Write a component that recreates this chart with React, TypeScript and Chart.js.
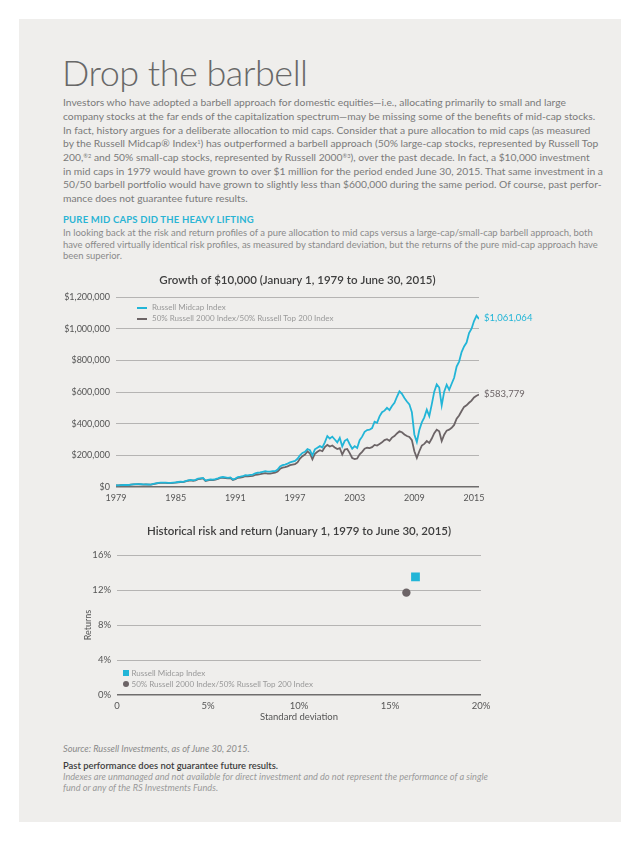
import React, { useEffect, useRef } from "react";
import { Chart, registerables } from "chart.js";

Chart.register(...registerables);

const FONT = "Lato, 'Open Sans', 'DejaVu Sans', sans-serif";
const BLUE = "#22b5d7";
const GRAY = "#6c6466";
const GRID = "#b5b4b3";
const ZERO = "#6f6d6d";
const TICK = "#555555";

// ---- Growth of $10,000 (values in thousands of dollars, quarterly from Jan 1979 to Jun 2015)
const startYear = 1979;
const yearTicks = [1979, 1985, 1991, 1997, 2003, 2009, 2015];
const seriesNames = ["Russell Midcap Index", "50% Russell 2000 Index/50% Russell Top 200 Index"];

const midcapGrowth = [
  10, 10.8, 11.8, 12.6,
  13.5, 12.8, 15.5, 17,
  17.8, 18.5, 17.5, 16.2,
  16.5, 15.8, 15.4, 19.5,
  22.5, 25.5, 27.8, 27.5,
  28, 26, 25.5, 27.8,
  29.5, 31.5, 33.5, 33,
  37.5, 42, 44.5, 42,
  45, 53, 55, 57,
  41, 45, 47.5, 47,
  50, 55, 61, 63,
  61, 58, 61, 48,
  53, 63, 65, 68,
  75, 74, 76, 78,
  86, 90, 92, 96,
  100, 97, 97, 100,
  100, 110, 130, 138,
  142, 148, 155, 160,
  165, 178, 200, 215,
  222, 240, 232, 200,
  238, 248, 258, 250,
  282, 322, 306, 318,
  300, 282, 310, 256,
  292, 302, 270, 242,
  258, 246, 296, 318,
  348, 360, 362, 372,
  412, 406, 446, 472,
  482, 500, 486, 512,
  532, 570, 604, 588,
  562, 540, 522, 472,
  332, 284, 360, 408,
  440, 488, 448, 522,
  602, 648, 628, 516,
  602, 646, 614, 652,
  690, 760, 792, 852,
  888, 912, 972, 1000,
  1048, 1082, 1061.064,
];

const barbellGrowth = [
  10, 10.6, 11.5, 12.2,
  13, 12.4, 14.8, 16.2,
  16.8, 17.5, 16.8, 15.5,
  15.8, 15.2, 14.8, 18.5,
  21.5, 24.5, 26.5, 26,
  26.2, 24.5, 24, 26.2,
  27.8, 29.8, 31.5, 31.5,
  35.5, 39.5, 41.5, 39.5,
  42.5, 50, 52, 54,
  38, 42, 44.5, 44,
  47, 51.5, 57, 58.5,
  56.5, 54, 56.5, 44.5,
  49, 58, 60, 62.5,
  68, 67, 68.5, 70.5,
  76, 79, 81, 84,
  87, 84, 85, 88,
  90, 98, 115, 122,
  125, 130, 138, 142,
  145, 155, 180, 195,
  205, 225, 212, 175,
  210, 222, 232, 226,
  252, 266, 256, 262,
  250, 240, 246, 205,
  236, 240, 214, 183,
  176, 180, 206, 222,
  242, 248, 246, 252,
  266, 262, 272, 282,
  296, 302, 292, 312,
  322, 338, 352, 346,
  332, 322, 316, 296,
  226, 184, 226, 262,
  272, 290, 278, 306,
  340, 362, 352, 290,
  330, 356, 362, 374,
  392, 432, 452, 480,
  506, 516, 532, 546,
  566, 576, 583.779,
];

// ---- Historical risk and return
const riskStdDev = [16.4, 15.9];
const riskReturn = [13.5, 11.7];

const fmtDollars = (k: number) => "$" + Math.round(k * 1000).toLocaleString("en-US");

const endLabels = {
  id: "endLabels",
  afterDatasetsDraw(chart: any) {
    const ctx = chart.ctx;
    chart.data.datasets.forEach((ds: any, i: number) => {
      const meta = chart.getDatasetMeta(i);
      const pt = meta.data[meta.data.length - 1];
      const v = ds.data[ds.data.length - 1].y;
      ctx.save();
      ctx.font = `9.5px ${FONT}`;
      ctx.fillStyle = ds.borderColor;
      ctx.textBaseline = "middle";
      ctx.textAlign = "left";
      ctx.fillText(fmtDollars(v), pt.x + 5, pt.y - 1);
      ctx.restore();
    });
  },
};

function GrowthChart() {
  const ref = useRef<HTMLCanvasElement>(null);
  useEffect(() => {
    if (!ref.current) return;
    const toPoints = (arr: number[]) => arr.map((v, i) => ({ x: startYear + i / 4, y: v }));
    const chart = new Chart(ref.current, {
      type: "line",
      data: {
        datasets: [
          { label: seriesNames[0], data: toPoints(midcapGrowth), borderColor: BLUE, borderWidth: 1.8, pointRadius: 0, tension: 0 },
          { label: seriesNames[1], data: toPoints(barbellGrowth), borderColor: GRAY, borderWidth: 1.8, pointRadius: 0, tension: 0 },
        ],
      },
      options: {
        animation: false,
        responsive: false,
        maintainAspectRatio: false,
        layout: { padding: { left: 0, right: 81, top: 0, bottom: 0 } },
        plugins: {
          legend: { display: false },
          tooltip: { enabled: false },
          title: {
            display: true,
            fullSize: false,
            text: "Growth of $10,000 (January 1, 1979 to June 30, 2015)",
            color: "#3e3e3e",
            font: { family: FONT, size: 11.5, weight: "600" },
            padding: { top: 8.1, bottom: 10.1 },
          },
        },
        scales: {
          x: {
            type: "linear",
            min: 1979,
            max: 2015.5,
            afterBuildTicks: (s: any) => {
              s.ticks = yearTicks.map((v) => ({ value: v }));
            },
            afterFit: (s: any) => {
              s.height = 23;
            },
            ticks: {
              callback: (v: any) => String(v),
              color: TICK,
              font: { family: FONT, size: 9 },
              padding: 6,
              maxRotation: 0,
              autoSkip: false,
            },
            grid: { display: false, drawTicks: false },
            border: { display: false },
          },
          y: {
            min: 0,
            max: 1200,
            afterFit: (s: any) => {
              s.width = 76;
            },
            ticks: {
              stepSize: 200,
              callback: (v: any) => fmtDollars(Number(v)),
              color: TICK,
              font: { family: FONT, size: 9 },
              padding: 6,
            },
            grid: {
              drawTicks: false,
              color: (c: any) => (c.tick && c.tick.value === 0 ? ZERO : GRID),
              lineWidth: (c: any) => (c.tick && c.tick.value === 0 ? 1.6 : 1),
            },
            border: { display: false },
          },
        },
      },
      plugins: [endLabels],
    } as any);
    return () => chart.destroy();
  }, []);
  return (
    <canvas
      ref={ref}
      width={520}
      height={245}
      style={{ position: "absolute", left: 40, top: 265, width: 520, height: 245 }}
    />
  );
}

function RiskChart() {
  const ref = useRef<HTMLCanvasElement>(null);
  useEffect(() => {
    if (!ref.current) return;
    const chart = new Chart(ref.current, {
      type: "scatter",
      data: {
        datasets: [
          {
            label: seriesNames[0],
            data: [{ x: riskStdDev[0], y: riskReturn[0] }],
            pointStyle: "rect",
            pointRadius: 6.2,
            backgroundColor: BLUE,
            borderWidth: 0,
          },
          {
            label: seriesNames[1],
            data: [{ x: riskStdDev[1], y: riskReturn[1] }],
            pointStyle: "circle",
            pointRadius: 4.2,
            backgroundColor: GRAY,
            borderWidth: 0,
          },
        ],
      },
      options: {
        animation: false,
        responsive: false,
        maintainAspectRatio: false,
        layout: { padding: { left: 40, right: 79, top: 0, bottom: 0 } },
        plugins: {
          legend: { display: false },
          tooltip: { enabled: false },
          title: {
            display: true,
            fullSize: false,
            text: "Historical risk and return (January 1, 1979 to June 30, 2015)",
            color: "#3e3e3e",
            font: { family: FONT, size: 11.5, weight: "600" },
            padding: { top: 9.1, bottom: 17.1 },
          },
        },
        scales: {
          x: {
            type: "linear",
            min: 0,
            max: 20,
            afterFit: (s: any) => {
              s.height = 35;
            },
            ticks: {
              stepSize: 5,
              callback: (v: any) => (Number(v) === 0 ? "0" : v + "%"),
              color: TICK,
              font: { family: FONT, size: 9.5 },
              padding: 5,
              maxRotation: 0,
            },
            title: {
              display: true,
              text: "Standard deviation",
              color: TICK,
              font: { family: FONT, size: 9.5 },
              padding: { top: 0, bottom: 7.3 },
            },
            grid: { display: false, drawTicks: false },
            border: { display: false },
          },
          y: {
            min: 0,
            max: 16,
            afterFit: (s: any) => {
              s.width = 37;
            },
            ticks: {
              stepSize: 4,
              callback: (v: any) => v + "%",
              color: TICK,
              font: { family: FONT, size: 9.5 },
              padding: 6,
            },
            title: {
              display: true,
              text: "Returns",
              color: TICK,
              font: { family: FONT, size: 9 },
              padding: { top: 2.6, bottom: 0 },
            },
            grid: {
              drawTicks: false,
              color: (c: any) => (c.tick && c.tick.value === 0 ? ZERO : GRID),
              lineWidth: (c: any) => (c.tick && c.tick.value === 0 ? 1.6 : 1),
            },
            border: { display: false },
          },
        },
      },
    } as any);
    return () => chart.destroy();
  }, []);
  return (
    <canvas
      ref={ref}
      width={520}
      height={215}
      style={{ position: "absolute", left: 40, top: 515, width: 520, height: 215 }}
    />
  );
}

const abs = (left: number, top: number, extra: React.CSSProperties = {}): React.CSSProperties => ({
  position: "absolute",
  left,
  top,
  whiteSpace: "nowrap",
  fontFamily: FONT,
  margin: 0,
  ...extra,
});

const supStyle: React.CSSProperties = { fontSize: "0.55em", verticalAlign: "0.6em", lineHeight: 0 };

const bodyLines: React.ReactNode[] = [
  "Investors who have adopted a barbell approach for domestic equities\u2014i.e., allocating primarily to small and large",
  "company stocks at the far ends of the capitalization spectrum\u2014may be missing some of the benefits of mid-cap stocks.",
  "In fact, history argues for a deliberate allocation to mid caps. Consider that a pure allocation to mid caps (as measured",
  <>
    by the Russell Midcap® Index<sup style={supStyle}>1</sup>) has outperformed a barbell approach (50% large-cap stocks, represented by Russell Top
  </>,
  <>
    200,<sup style={supStyle}>®2</sup> and 50% small-cap stocks, represented by Russell 2000<sup style={supStyle}>®3</sup>), over the past decade. In fact, a $10,000 investment
  </>,
  "in mid caps in 1979 would have grown to over $1 million for the period ended June 30, 2015. That same investment in a",
  "50/50 barbell portfolio would have grown to slightly less than $600,000 during the same period. Of course, past perfor-",
  "mance does not guarantee future results.",
];

const subLines = [
  "In looking back at the risk and return profiles of a pure allocation to mid caps versus a large-cap/small-cap barbell approach, both",
  "have offered virtually identical risk profiles, as measured by standard deviation, but the returns of the pure mid-cap approach have",
  "been superior.",
];

export default function App() {
  return (
    <div style={{ position: "absolute", left: 0, top: 0, width: 640, height: 841, background: "#ffffff", overflow: "hidden" }}>
      <div style={{ position: "absolute", left: 19, top: 19, width: 602, height: 803, background: "#efeeec" }} />

      <div style={abs(62, 54, { fontSize: 36, fontWeight: 300, lineHeight: "36px", letterSpacing: -0.5, color: "#686868" })}>
        Drop the barbell
      </div>

      <div style={abs(63, 96.2, { fontSize: 10.3, lineHeight: "13.7px", color: "#7a7a7a" })}>
        {bodyLines.map((l, i) => (
          <div key={i}>{l}</div>
        ))}
      </div>

      <div style={abs(63, 214, { fontSize: 9.5, lineHeight: "12px", fontWeight: 700, color: "#2ab4d4", letterSpacing: 0.2 })}>
        PURE MID CAPS DID THE HEAVY LIFTING
      </div>

      <div style={abs(63, 227.3, { fontSize: 9.45, lineHeight: "11.5px", color: "#8a8a8a" })}>
        {subLines.map((l, i) => (
          <div key={i}>{l}</div>
        ))}
      </div>

      <GrowthChart />
      {/* legend, growth chart */}
      <div style={{ position: "absolute", left: 137, top: 306.5, width: 10, height: 2, background: BLUE }} />
      <div style={abs(152, 302, { fontSize: 8, lineHeight: "11px", color: "#999999" })}>{seriesNames[0]}</div>
      <div style={{ position: "absolute", left: 137, top: 317.5, width: 10, height: 2, background: GRAY }} />
      <div style={abs(152, 313, { fontSize: 8, lineHeight: "11px", color: "#999999" })}>{seriesNames[1]}</div>

      <RiskChart />
      {/* legend, risk chart */}
      <div style={{ position: "absolute", left: 123, top: 670, width: 6, height: 6, background: BLUE }} />
      <div style={abs(131.5, 667.5, { fontSize: 8, lineHeight: "11px", color: "#999999" })}>{seriesNames[0]}</div>
      <div style={{ position: "absolute", left: 123, top: 681, width: 6, height: 6, borderRadius: 3, background: GRAY }} />
      <div style={abs(131.5, 678.5, { fontSize: 8, lineHeight: "11px", color: "#999999" })}>{seriesNames[1]}</div>

      <div style={abs(63, 742.5, { fontSize: 9.2, lineHeight: "11px", fontStyle: "italic", color: "#8a8a8a" })}>
        Source: Russell Investments, as of June 30, 2015.
      </div>
      <div style={abs(63, 759.5, { fontSize: 9.4, lineHeight: "11px", fontWeight: 600, color: "#3c3c3c" })}>
        Past performance does not guarantee future results.
      </div>
      <div style={abs(63, 770.5, { fontSize: 9.2, lineHeight: "11px", fontStyle: "italic", color: "#9a9a9a" })}>
        <div>Indexes are unmanaged and not available for direct investment and do not represent the performance of a single</div>
        <div>fund or any of the RS Investments Funds.</div>
      </div>
    </div>
  );
}
